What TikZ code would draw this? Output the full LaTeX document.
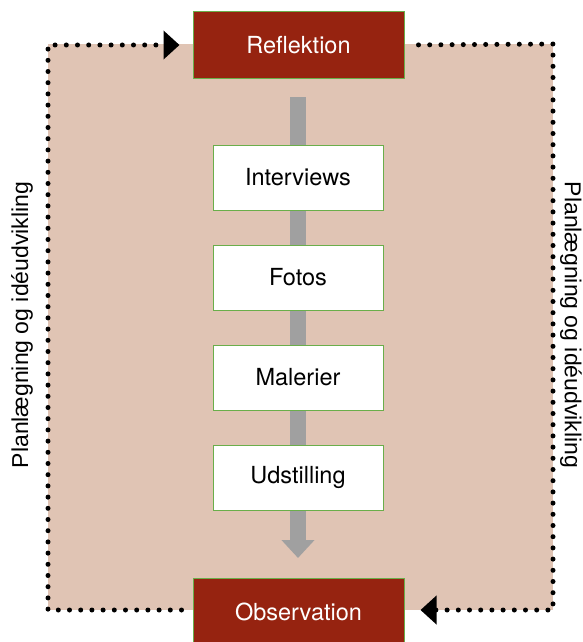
\documentclass[tikz,border=0pt]{standalone}
\usepackage{fontspec}
\setmainfont{TeX Gyre Heros}
\newfontfamily\sidefont{Liberation Sans}
\usetikzlibrary{arrows.meta}
\definecolor{bgfill}{RGB}{224,196,180}
\definecolor{darkred}{RGB}{150,35,16}
\definecolor{boxgreen}{RGB}{106,174,74}
\definecolor{arrowgray}{RGB}{160,160,160}
\tikzset{
  redbox/.style={draw=boxgreen, line width=1pt, fill=darkred, text=white,
    minimum width=211pt, minimum height=66pt, inner sep=0pt,
    font=\fontsize{23.5}{27}\selectfont},
  whitebox/.style={draw=boxgreen, line width=1pt, fill=white, text=black,
    minimum width=170pt, minimum height=65pt, inner sep=0pt,
    font=\fontsize{23.5}{27}\selectfont},
  dotline/.style={line width=5pt, line cap=round, dash pattern=on 0pt off 11.2pt},
  sidelabel/.style={font=\sidefont\fontsize{23}{27}\selectfont, inner sep=0pt},
  tip/.style={-{Triangle[length=16pt,width=28pt]}}
}
\begin{document}
\begin{tikzpicture}[x=1pt,y=-1pt]
\useasboundingbox (0,0) rectangle (582,642);
\fill[bgfill] (48,44) rectangle (553,610);
% central gray arrow
\coordinate (ga) at (298,97);
\coordinate (gb) at (298,558);
\draw[arrowgray, line width=16pt, -{Triangle[length=18pt,width=32pt]}] (ga) -- (gb);
% nodes
\node[redbox] (refl) at (298.5,45) {Reflektion};
\node[redbox, minimum height=68pt] (obs) at (298.5,612) {Observation};
\node[whitebox] (b1) at (298,177.5) {Interviews};
\node[whitebox] (b2) at (298,277.5) {Fotos};
\node[whitebox] (b3) at (298,377.5) {Malerier};
\node[whitebox] (b4) at (298,477.5) {Udstilling};
% side labels
\node[sidelabel, rotate=90] (lleft) at (22,325) {Planlægning og idéudvikling};
\node[sidelabel, rotate=-90] (lright) at (571,325) {Planlægning og idéudvikling};
% dotted loop
\coordinate (lb) at (48,610);
\coordinate (rt) at (553,44);
\draw[dotline, tip, shorten <=11pt, shorten >=13pt] (obs.west |- lb) -- (lb) |- (refl.west);
\draw[dotline, tip, shorten <=14pt, shorten >=16pt] (refl.east) -- (rt) |- (obs.east |- lb);
\end{tikzpicture}
\end{document}
